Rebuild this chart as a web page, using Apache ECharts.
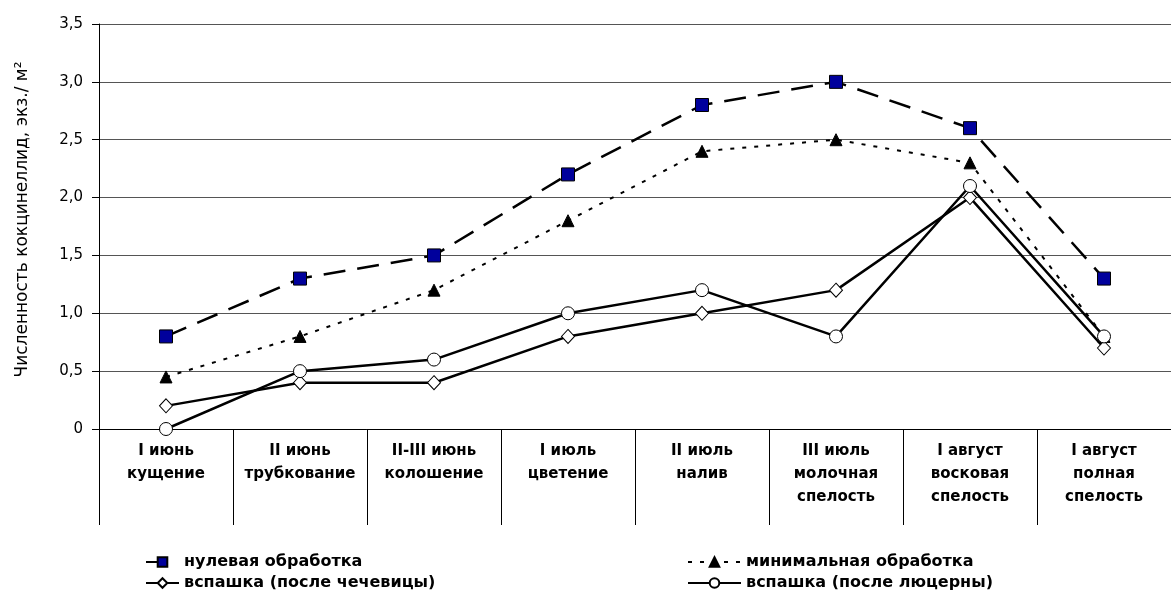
<!DOCTYPE html>
<html>
<head>
<meta charset="utf-8">
<script src="https://cdn.jsdelivr.net/npm/echarts@6/dist/echarts.min.js"></script>
<style>
html, body { margin: 0; padding: 0; background: #fff; }
#chart { width: 1171px; height: 599px; }
</style>
</head>
<body>
<div id="chart"></div>
<script>
var categories = [
  'I июнь\nкущение',
  'II июнь\nтрубкование',
  'II-III июнь\nколошение',
  'I июль\nцветение',
  'II июль\nналив',
  'III июль\nмолочная\nспелость',
  'I август\nвосковая\nспелость',
  'I август\nполная\nспелость'
]
var zeroTill = [0.8, 1.3, 1.5, 2.2, 2.8, 3.0, 2.6, 1.3]
var minTill = [0.45, 0.8, 1.2, 1.8, 2.4, 2.5, 2.3, 0.8]
var plowLentil = [0.2, 0.4, 0.4, 0.8, 1.0, 1.2, 2.0, 0.7]
var plowAlfalfa = [0, 0.5, 0.6, 1.0, 1.2, 0.8, 2.1, 0.8]

var font = '"DejaVu Sans", sans-serif'

var chart = echarts.init(document.getElementById('chart'))
var legendText = { color: '#000', fontSize: 16, fontWeight: 'bold', fontFamily: font }
var option = {
  animation: false,
  textStyle: { fontFamily: font },
  grid: {
    left: 99,
    right: 0,
    top: 24,
    bottom: 170
  },
  legend: [
    {
      orient: 'vertical',
      left: 145,
      top: 554,
      padding: 0,
      itemGap: 5,
      itemWidth: 33,
      itemHeight: 12,
      textStyle: legendText,
      data: ['нулевая обработка', 'вспашка (после чечевицы)']
    },
    {
      orient: 'vertical',
      left: 687,
      top: 554,
      padding: 0,
      itemGap: 5,
      itemWidth: 53,
      itemHeight: 12,
      textStyle: legendText,
      data: ['минимальная обработка', 'вспашка (после люцерны)']
    }
  ],
  xAxis: {
    type: 'category',
    data: categories,
    boundaryGap: true,
    axisLine: { lineStyle: { color: '#000', width: 1 } },
    axisTick: {
      show: true,
      interval: 0,
      length: 96,
      lineStyle: { color: '#000', width: 1 }
    },
    axisLabel: {
      interval: 0,
      color: '#000',
      fontSize: 15,
      fontWeight: 'bold',
      lineHeight: 23,
      margin: 11,
      fontFamily: font
    }
  },
  yAxis: {
    type: 'value',
    min: 0,
    max: 3.5,
    interval: 0.5,
    name: 'Численность кокцинеллид, экз./ м²',
    nameLocation: 'middle',
    nameGap: 68,
    nameTextStyle: { color: '#000', fontSize: 17, fontFamily: font, padding: [0, 0, 0, 14] },
    axisLine: { show: true, lineStyle: { color: '#000', width: 1 } },
    axisTick: { show: true, length: 7, lineStyle: { color: '#000' } },
    axisLabel: {
      color: '#000',
      fontSize: 15,
      margin: 16,
      fontFamily: font,
      formatter: function (v) {
        return v === 0 ? '0' : v.toFixed(1).replace('.', ',')
      }
    },
    splitLine: { show: true, lineStyle: { color: '#555', width: 1 } }
  },
  series: [
    {
      name: 'нулевая обработка',
      type: 'line',
      data: zeroTill,
      symbol: 'rect',
      symbolSize: 13,
      lineStyle: { color: '#000', width: 2.5, type: [22, 12] },
      itemStyle: { color: '#00009c', borderColor: '#000', borderWidth: 1 },
      z: 4
    },
    {
      name: 'минимальная обработка',
      type: 'line',
      data: minTill,
      symbol: 'triangle',
      symbolSize: 12,
      lineStyle: { color: '#000', width: 2, type: [4, 8] },
      itemStyle: { color: '#000', borderColor: '#000', borderWidth: 1 },
      z: 3
    },
    {
      name: 'вспашка (после чечевицы)',
      type: 'line',
      data: plowLentil,
      symbol: 'diamond',
      symbolSize: [13, 14],
      lineStyle: { color: '#000', width: 2.5 },
      itemStyle: { color: '#fff', borderColor: '#000', borderWidth: 1 },
      z: 5
    },
    {
      name: 'вспашка (после люцерны)',
      type: 'line',
      data: plowAlfalfa,
      symbol: 'circle',
      symbolSize: 13,
      lineStyle: { color: '#000', width: 2.5 },
      itemStyle: { color: '#fff', borderColor: '#000', borderWidth: 1 },
      z: 6
    }
  ]
}
chart.setOption(option)
</script>
</body>
</html>
